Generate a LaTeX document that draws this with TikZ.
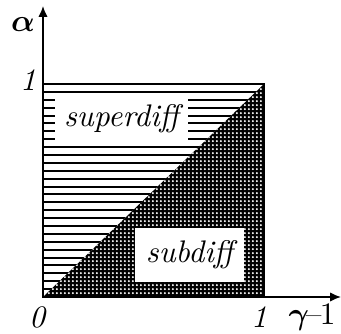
\documentclass[tikz,border=0pt]{standalone}
\usepackage{amsmath,amssymb,bm}
\usetikzlibrary{arrows.meta, patterns}
\pgfdeclarepatternformonly{whitedots}{\pgfpointorigin}{\pgfpoint{1.4pt}{1.4pt}}{\pgfpoint{1.4pt}{1.4pt}}{%
  \pgfpathcircle{\pgfpoint{0.7pt}{0.7pt}}{0.4pt}\pgfusepath{fill}}
\tikzset{
  axis/.style={line width=0.5pt, -{Latex[length=3.5pt, width=3pt]}},
  hatchline/.style={line width=0.65pt},
  regionlabel/.style={fill=white, inner sep=0pt, font=\itshape},
  ticklabel/.style={font=\itshape}
}

\begin{document}
\begin{tikzpicture}[x=0.32pt, y=-0.32pt]
    \useasboundingbox (0,0) rectangle (341,333);
    % lower triangle: black with white dots
    \coordinate (o) at (43,297);
    \coordinate (c) at (264,84);
    \coordinate (r) at (264,297);
    \coordinate (t) at (43,84);
    \fill[black] (o) -- (r) -- (c) -- cycle;
    \fill[pattern=whitedots, pattern color=white] (o) -- (r) -- (c) -- cycle;
    % upper triangle: horizontal hatching
    \begin{scope}
      \clip (o) -- (c) -- (t) -- cycle;
      \foreach \k in {1,...,26} {
        \draw[hatchline] (43,84+\k*213/27) -- (264,84+\k*213/27);
      }
    \end{scope}
    \draw[line width=0.6pt] (o) rectangle (c);
    % labels in white boxes
    \node[regionlabel, minimum width=42.6pt, minimum height=15.7pt] (super) at (121.5,119) {superdiff};
    \node[regionlabel, minimum width=34.9pt, minimum height=17.3pt] (sub) at (189.5,255) {subdiff};
    % axes
    \coordinate (xend) at (341,297);
    \coordinate (yend) at (43,6);
    \draw[axis] (o) -- (xend);
    \draw[axis] (o) -- (yend);
    \node[ticklabel] (zero) at (37,317) {0};
    \node[ticklabel] (onex) at (259,317) {1};
    \node[ticklabel] (oney) at (28,80) {1};
    \node (alpha) at (23,25) {$\bm{\alpha}$};
    \node (gamma) at (312,317) {$\bm{\gamma}$\kern-1pt--\kern-0.5pt1};
  \end{tikzpicture}
\end{document}
